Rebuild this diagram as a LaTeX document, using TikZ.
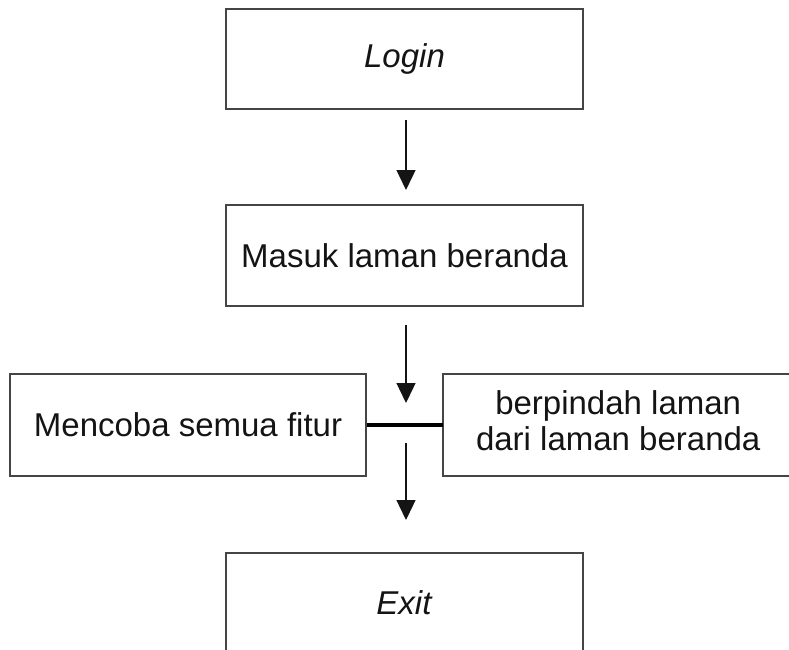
\documentclass[tikz,border=0pt]{standalone}
\usepackage{fontspec}
\setmainfont{Liberation Sans}
\usetikzlibrary{arrows.meta}
\definecolor{boxline}{HTML}{454545}
\definecolor{ink}{HTML}{141414}
\begin{document}
\begin{tikzpicture}[x=1pt,y=-1pt,
  boxtext/.style={minimum width=357pt, minimum height=100pt,
    inner sep=0pt, text=ink, font=\fontsize{33}{38}\selectfont},
  boxedge/.style={draw=boxline, line width=1.6pt},
  box/.style={boxtext, boxedge},
  flow/.style={draw=ink, line width=1.3pt, -{Triangle[length=20pt,width=19pt]}},
  joinline/.style={draw=black, line width=4.5pt}]
\useasboundingbox (0,0) rectangle (789,649);
\clip (0,0) rectangle (789,649);
\node[box] (login) at (404.5,59) {\textit{Login}};
\node[box, minimum height=101pt] (masuk) at (404.5,255.5) {Masuk laman beranda};
\node[box, minimum width=356pt, minimum height=102pt] (coba) at (188,425) {Mencoba semua fitur};
\node[boxtext, minimum width=350pt, minimum height=102pt, anchor=west] (pindah) at (443,425)
  {\begin{tabular}{@{}c@{}}berpindah laman\\[-2pt]dari laman beranda\end{tabular}};
\draw[boxedge] ([xshift=30pt]pindah.north east) -- (pindah.north west) -- (pindah.south west) -- ([xshift=30pt]pindah.south east);
\node[box] (exit) at (404.5,603) {\textit{Exit}};
\coordinate (a1s) at (406,120);
\coordinate (a1e) at (406,190);
\coordinate (a2s) at (406,325);
\coordinate (a2e) at (406,403);
\coordinate (a3s) at (406,443);
\coordinate (a3e) at (406,520);
\draw[flow] (a1s) -- (a1e);
\draw[flow] (a2s) -- (a2e);
\draw[flow] (a3s) -- (a3e);
\draw[joinline] (coba.east) -- (pindah.west);
\end{tikzpicture}
\end{document}
